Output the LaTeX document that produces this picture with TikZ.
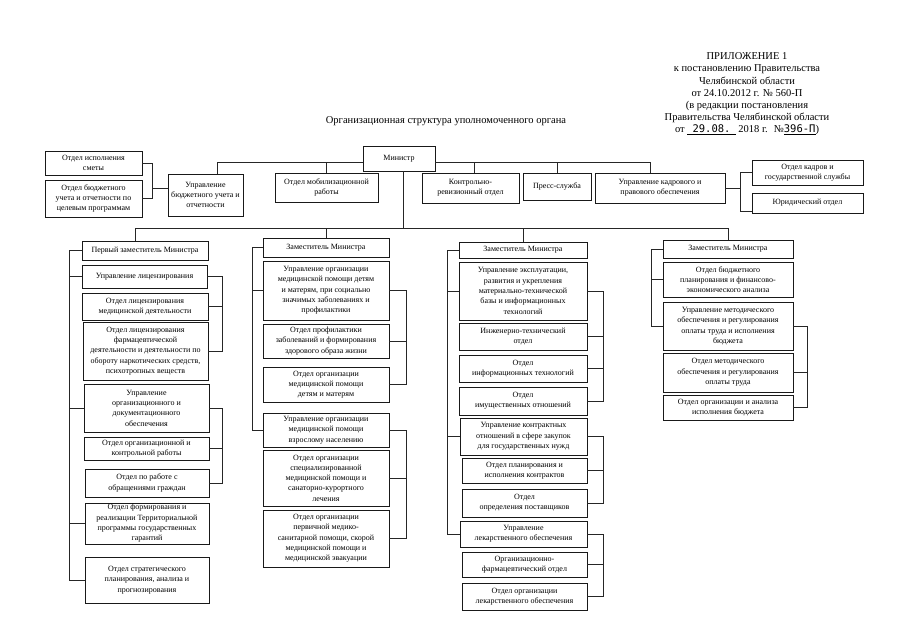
\documentclass[tikz,border=0pt]{standalone}
\usepackage{fontspec}
\setmainfont{Liberation Serif}
\newfontfamily\handfont{DejaVu Sans Mono}
\newcommand\boxfont{\fontsize{8}{10.3}\selectfont}
\newcommand\headfont{\fontsize{10.5}{12.2}\selectfont}
\newcommand\orgbox[6]{%
 \pgfmathsetmacro\obw{#4-#2}%
 \pgfmathsetmacro\obh{#5-#3}%
 \pgfmathsetmacro\obx{(#2+#4)/2}%
 \pgfmathsetmacro\oby{(#3+#5)/2}%
 \node[box,minimum width=\obw pt,minimum height=\obh pt] (#1) at (\obx,\oby) {#6};}
\tikzset{
 box/.style={draw=black!90,line width=0.8pt,inner sep=0pt,align=center,font=\boxfont,fill=white},
 conn/.style={draw=black!85,line width=0.75pt},
 hdr/.style={align=center,font=\headfont,inner sep=0pt}
}
\begin{document}
\begin{tikzpicture}[x=1pt,y=-1pt]
\fill[white] (0,0) rectangle (905,640);
\useasboundingbox (0,0) rectangle (905,640);

% header
\node[hdr] (hdr) at (747,94) {ПРИЛОЖЕНИЕ 1\\к постановлению Правительства\\Челябинской области\\от 24.10.2012 г. № 560-П\\(в редакции постановления\\Правительства Челябинской области\\от \underline{\ \ {\handfont 29.08.}\ \ } 2018 г. \ №\underline{{\handfont 396-П}})};
\node[hdr] (title) at (446,121) {Организационная структура уполномоченного органа};

% top row
\orgbox{min}{363}{146}{435}{171}{Министр}
\orgbox{smeta}{45}{151}{142}{175}{Отдел исполнения\\сметы}
\orgbox{bud}{45}{180}{142}{217}{Отдел бюджетного\\учета и отчетности по\\целевым программам}
\orgbox{uB}{168}{174}{243}{216}{Управление\\бюджетного учета и\\отчетности}
\orgbox{mob}{275}{173}{378}{202}{Отдел мобилизационной\\работы}
\orgbox{krev}{422}{173}{519}{203}{Контрольно-\\ревизионный отдел}
\orgbox{press}{523}{173}{591}{200}{Пресс-служба}
\orgbox{kadr}{595}{173}{725}{203}{Управление кадрового и\\правового обеспечения}
\orgbox{okadr}{752}{160}{863}{185}{Отдел кадров и\\государственной службы}
\orgbox{jur}{752}{193}{863}{213}{Юридический отдел}

% column 1
\orgbox{d1}{82}{241}{208}{260}{Первый заместитель Министра}
\orgbox{c1a}{82}{265}{207}{288}{Управление лицензирования}
\orgbox{c1b}{82}{293}{208}{320}{Отдел лицензирования\\медицинской деятельности}
\orgbox{c1c}{83}{322}{208}{380}{Отдел лицензирования\\фармацевтической\\деятельности и деятельности по\\обороту наркотических средств,\\психотропных веществ}
\orgbox{c1d}{84}{384}{209}{432}{Управление\\организационного и\\документационного\\обеспечения}
\orgbox{c1e}{84}{437}{209}{460}{Отдел организационной и\\контрольной работы}
\orgbox{c1f}{85}{469}{209}{497}{Отдел по работе с\\обращениями граждан}
\orgbox{c1g}{85}{503}{209}{544}{Отдел формирования и\\реализации Территориальной\\программы государственных\\гарантий}
\orgbox{c1h}{85}{557}{209}{603}{Отдел стратегического\\планирования, анализа и\\прогнозирования}

% column 2
\orgbox{d2}{263}{238}{389}{257}{Заместитель Министра}
\orgbox{c2a}{263}{261}{389}{320}{Управление организации\\медицинской помощи детям\\и матерям, при социально\\значимых заболеваниях и\\профилактики}
\orgbox{c2b}{263}{324}{389}{358}{Отдел профилактики\\заболеваний и формирования\\здорового образа жизни}
\orgbox{c2c}{263}{367}{389}{402}{Отдел организации\\медицинской помощи\\детям и матерям}
\orgbox{c2d}{263}{413}{389}{447}{Управление организации\\медицинской помощи\\взрослому населению}
\orgbox{c2e}{263}{450}{389}{506}{Отдел организации\\специализированной\\медицинской помощи и\\санаторно-курортного\\лечения}
\orgbox{c2f}{263}{510}{389}{567}{Отдел организации\\первичной медико-\\санитарной помощи, скорой\\медицинской помощи и\\медицинской эвакуации}

% column 3
\orgbox{d3}{459}{242}{587}{258}{Заместитель Министра}
\orgbox{c3a}{459}{262}{587}{320}{Управление эксплуатации,\\развития и укрепления\\материально-технической\\базы и информационных\\технологий}
\orgbox{c3b}{459}{323}{587}{350}{Инженерно-технический\\отдел}
\orgbox{c3c}{459}{355}{587}{382}{Отдел\\информационных технологий}
\orgbox{c3d}{459}{387}{587}{415}{Отдел\\имущественных отношений}
\orgbox{c3e}{460}{418}{587}{455}{Управление контрактных\\отношений в сфере закупок\\для государственных нужд}
\orgbox{c3f}{462}{458}{587}{483}{Отдел планирования и\\исполнения контрактов}
\orgbox{c3g}{462}{489}{587}{517}{Отдел\\определения поставщиков}
\orgbox{c3h}{460}{521}{587}{547}{Управление\\лекарственного обеспечения}
\orgbox{c3i}{462}{552}{587}{577}{Организационно-\\фармацевтический отдел}
\orgbox{c3j}{462}{583}{587}{610}{Отдел организации\\лекарственного обеспечения}

% column 4
\orgbox{d4}{663}{240}{793}{258}{Заместитель Министра}
\orgbox{c4a}{663}{262}{793}{297}{Отдел бюджетного\\планирования и финансово-\\экономического анализа}
\orgbox{c4b}{663}{302}{793}{350}{Управление методического\\обеспечения и регулирования\\оплаты труда и исполнения\\бюджета}
\orgbox{c4c}{663}{353}{793}{392}{Отдел методического\\обеспечения и регулирования\\оплаты труда}
\orgbox{c4d}{663}{395}{793}{420}{Отдел организации и анализа\\исполнения бюджета}

% helper coordinates
\coordinate (bus) at (0,162);
\coordinate (xuB) at (217,0);
\coordinate (xkrev) at (474,0);
\coordinate (xkadr) at (650,0);
\coordinate (lb) at (152,0);
\coordinate (rb) at (740,0);
\coordinate (dbus) at (0,228);
\coordinate (mx) at (403,0);
\coordinate (xd1) at (135,0);
\coordinate (c1L) at (69,0);
\coordinate (c1R) at (222,0);
\coordinate (c2L) at (252,0);
\coordinate (c2R) at (406,0);
\coordinate (c3L) at (447,0);
\coordinate (c3R) at (603,0);
\coordinate (c4L) at (651,0);
\coordinate (c4R) at (807,0);

% top connectors
\draw[conn] (xuB |- uB.north) -- (xuB |- bus) -- (min.west |- bus);
\draw[conn] (mob.north) -- (mob.north |- bus);
\draw[conn] (min.east |- bus) -- (xkadr |- bus) -- (xkadr |- kadr.north);
\draw[conn] (xkrev |- krev.north) -- (xkrev |- bus);
\draw[conn] (press.north) -- (press.north |- bus);
\draw[conn] (smeta.east) -- (smeta.east -| lb) |- (bud.east);
\draw[conn] ([yshift=7pt]uB.west) -- ([yshift=7pt]uB.west -| lb);
\draw[conn] (kadr.east) -- (kadr.east -| rb);
\draw[conn] (okadr.west) -- (okadr.west -| rb) -- ([yshift=-8pt]rb |- jur.west) -- ([yshift=-8pt]jur.west);

% deputies bus
\draw[conn] (mx |- min.south) -- (mx |- dbus);
\draw[conn] (xd1 |- d1.north) -- (xd1 |- dbus) -- (d4.north |- dbus) -- (d4.north);
\draw[conn] (d2.north) -- (d2.north |- dbus);
\draw[conn] (d3.north) -- (d3.north |- dbus);

% column 1
\draw[conn] (d1.west) -- (d1.west -| c1L) |- (c1h.west);
\draw[conn] (c1L |- c1a.west) -- (c1a.west);
\draw[conn] (c1L |- c1d.west) -- (c1d.west);
\draw[conn] (c1L |- c1g.west) -- (c1g.west);
\draw[conn] (c1a.east) -- (c1a.east -| c1R) |- (c1c.east);
\draw[conn] (c1R |- c1b.east) -- (c1b.east);
\draw[conn] (c1d.east) -- (c1d.east -| c1R) |- (c1f.east);
\draw[conn] (c1R |- c1e.east) -- (c1e.east);

% column 2
\draw[conn] (d2.west) -- (d2.west -| c2L) |- (c2d.west);
\draw[conn] (c2L |- c2a.west) -- (c2a.west);
\draw[conn] (c2a.east) -- (c2a.east -| c2R) |- (c2c.east);
\draw[conn] (c2R |- c2b.east) -- (c2b.east);
\draw[conn] (c2d.east) -- (c2d.east -| c2R) |- (c2f.east);
\draw[conn] (c2R |- c2e.east) -- (c2e.east);

% column 3
\draw[conn] (d3.west) -- (d3.west -| c3L) |- (c3h.west);
\draw[conn] (c3L |- c3a.west) -- (c3a.west);
\draw[conn] (c3L |- c3e.west) -- (c3e.west);
\draw[conn] (c3a.east) -- (c3a.east -| c3R) |- (c3d.east);
\draw[conn] (c3R |- c3b.east) -- (c3b.east);
\draw[conn] (c3R |- c3c.east) -- (c3c.east);
\draw[conn] (c3e.east) -- (c3e.east -| c3R) |- (c3g.east);
\draw[conn] (c3R |- c3f.east) -- (c3f.east);
\draw[conn] (c3h.east) -- (c3h.east -| c3R) |- (c3j.east);
\draw[conn] (c3R |- c3i.east) -- (c3i.east);

% column 4
\draw[conn] (d4.west) -- (d4.west -| c4L) |- (c4b.west);
\draw[conn] (c4L |- c4a.west) -- (c4a.west);
\draw[conn] (c4b.east) -- (c4b.east -| c4R) |- (c4d.east);
\draw[conn] (c4R |- c4c.east) -- (c4c.east);
\end{tikzpicture}
\end{document}
